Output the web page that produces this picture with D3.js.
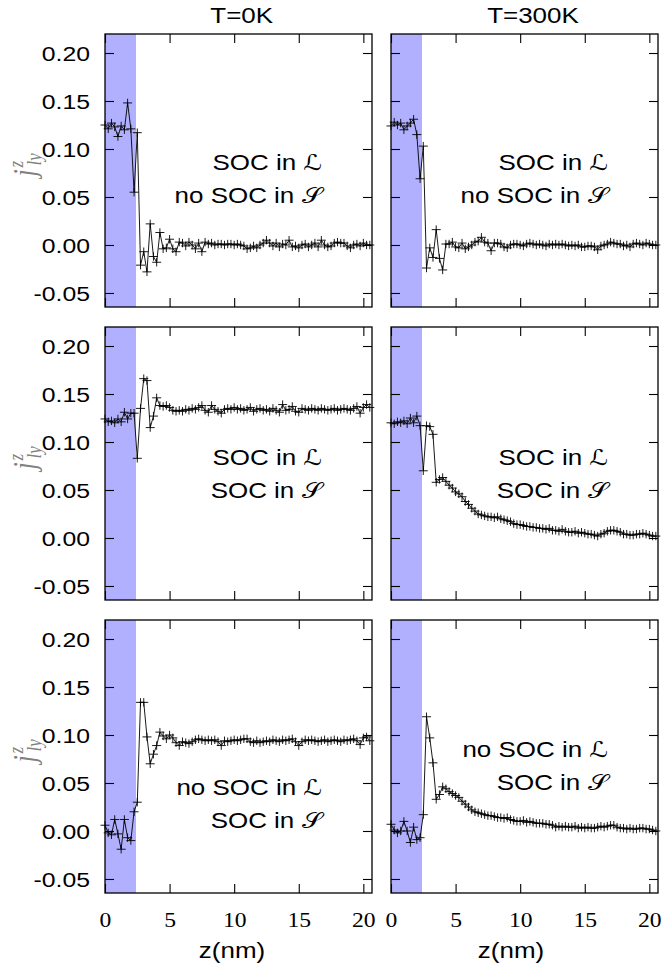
<!DOCTYPE html>
<html><head><meta charset="utf-8">
<script src="https://cdn.jsdelivr.net/npm/d3@7/dist/d3.min.js"></script>
<style>body{margin:0;background:#fff}</style>
</head><body><svg id="c" width="661" height="973"></svg>
<script>
// ---------- data ----------
const zNm = [0,0.25,0.5,0.75,1,1.25,1.5,1.75,2,2.25,2.5,2.75,3,3.25,3.5,3.75,4,4.25,4.5,4.75,5,5.25,5.5,5.75,6,6.25,6.5,6.75,7,7.25,7.5,7.75,8,8.25,8.5,8.75,9,9.25,9.5,9.75,10,10.25,10.5,10.75,11,11.25,11.5,11.75,12,12.25,12.5,12.75,13,13.25,13.5,13.75,14,14.25,14.5,14.75,15,15.25,15.5,15.75,16,16.25,16.5,16.75,17,17.25,17.5,17.75,18,18.25,18.5,18.75,19,19.25,19.5,19.75,20,20.25,20.5];

const socL_noS_0K = [0.125,0.121,0.127,0.123,0.113,0.124,0.120,0.148,0.121,0.055,
0.117,-0.021,-0.007,-0.028,0.022,-0.012,-0.018,0.013,-0.004,-0.003,
0.006,-0.004,-0.007,0.003,0.002,-0.001,0.003,0.000,-0.004,0.002,
-0.007,0.003,0.001,0.002,0.000,0.001,0.001,0.000,0.001,0.001,
0.000,0.001,0.000,-0.001,-0.004,-0.003,-0.001,-0.003,0.000,0.002,
0.005,0.002,-0.001,0.002,-0.002,0.001,0.000,0.005,-0.002,-0.001,
-0.003,0.000,0.001,-0.002,0.000,0.002,-0.002,0.005,0.000,-0.002,
-0.001,0.002,0.003,0.002,0.002,-0.001,-0.003,0.000,0.001,-0.001,
0.002,0.000,0.000];

const socL_noS_300K = [0.124,0.128,0.125,0.127,0.120,0.124,0.127,0.131,0.115,0.069,
0.103,-0.024,-0.003,-0.013,0.016,-0.014,-0.026,0.001,0.001,0.003,
-0.002,-0.003,0.002,-0.004,-0.002,0.000,0.003,0.004,0.008,0.003,
0.002,-0.006,0.002,0.002,0.001,-0.002,-0.003,0.000,0.001,0.001,
0.000,-0.001,0.001,0.002,0.001,0.000,0.001,0.000,-0.001,0.001,
0.000,0.001,0.000,0.001,0.000,-0.001,0.000,-0.001,0.000,-0.002,
-0.002,-0.001,-0.001,-0.002,-0.005,-0.001,0.000,0.001,0.003,0.002,
0.001,0.001,-0.001,0.000,-0.002,0.001,0.002,0.001,0.000,0.002,
0.001,0.000,0.000];

const socL_socS_0K = [0.124,0.121,0.122,0.120,0.124,0.121,0.131,0.124,0.130,0.130,
0.083,0.135,0.166,0.164,0.115,0.127,0.146,0.138,0.137,0.138,
0.136,0.133,0.132,0.133,0.132,0.134,0.133,0.135,0.134,0.136,
0.138,0.133,0.131,0.138,0.134,0.132,0.130,0.134,0.135,0.134,
0.136,0.134,0.135,0.133,0.134,0.136,0.132,0.134,0.135,0.133,
0.134,0.132,0.135,0.133,0.131,0.139,0.133,0.134,0.137,0.132,
0.131,0.135,0.134,0.133,0.135,0.134,0.133,0.135,0.134,0.133,
0.134,0.135,0.133,0.134,0.135,0.134,0.133,0.135,0.137,0.130,
0.136,0.139,0.136];

const socL_socS_300K = [0.120,0.119,0.121,0.120,0.122,0.119,0.125,0.120,0.127,0.117,
0.070,0.117,0.116,0.108,0.058,0.061,0.063,0.059,0.055,0.052,
0.048,0.046,0.043,0.038,0.035,0.031,0.028,0.025,0.024,0.023,
0.022,0.022,0.021,0.022,0.020,0.019,0.018,0.017,0.015,0.014,
0.014,0.013,0.012,0.012,0.011,0.011,0.010,0.010,0.009,0.010,
0.008,0.008,0.007,0.009,0.007,0.006,0.006,0.007,0.005,0.006,
0.005,0.004,0.004,0.003,0.002,0.004,0.005,0.007,0.008,0.008,
0.007,0.006,0.004,0.004,0.003,0.003,0.004,0.004,0.005,0.004,
0.003,0.002,0.002];

const noL_socS_0K = [0.006,-0.002,-0.004,0.012,-0.003,-0.019,0.012,-0.007,-0.010,0.020,
0.030,0.134,0.134,0.098,0.070,0.080,0.089,0.103,0.099,0.096,
0.100,0.097,0.092,0.089,0.093,0.092,0.091,0.093,0.095,0.096,
0.095,0.094,0.095,0.094,0.095,0.093,0.089,0.094,0.093,0.094,
0.095,0.094,0.095,0.096,0.096,0.093,0.092,0.094,0.092,0.093,
0.094,0.093,0.095,0.094,0.093,0.095,0.094,0.095,0.096,0.093,
0.089,0.093,0.095,0.094,0.095,0.094,0.093,0.094,0.095,0.093,
0.094,0.095,0.094,0.093,0.095,0.094,0.095,0.096,0.094,0.090,
0.097,0.098,0.094];

const noL_socS_300K = [0.007,0.001,-0.002,0.000,0.010,0.000,-0.012,0.004,-0.009,-0.007,
0.017,0.119,0.097,0.071,0.033,0.038,0.046,0.044,0.041,0.039,
0.037,0.035,0.031,0.028,0.025,0.022,0.020,0.019,0.018,0.017,
0.016,0.016,0.015,0.014,0.014,0.013,0.014,0.012,0.011,0.010,
0.010,0.011,0.009,0.010,0.009,0.008,0.008,0.008,0.007,0.007,
0.006,0.004,0.005,0.004,0.005,0.004,0.004,0.005,0.003,0.004,
0.003,0.004,0.003,0.003,0.004,0.005,0.004,0.005,0.006,0.006,
0.004,0.003,0.003,0.002,0.003,0.002,0.002,0.003,0.003,0.002,
0.002,0.001,0.000];

const lRegionEnd = 2.4;               // shaded layer L (nm)
const yTicks = [-0.05,0,0.05,0.10,0.15,0.20];
const yTickLabels = ["-0.05","0.00","0.05","0.10","0.15","0.20"];
const xTicks = [0,5,10,15,20];
const xTickLabels = ["0","5","10","15","20"];
const columnTitles = ["T=0K","T=300K"];
const xAxisTitle = "z(nm)";
const panelSeries = [[socL_noS_0K, socL_noS_300K],[socL_socS_0K, socL_socS_300K],[noL_socS_0K, noL_socS_300K]];
const rowNotes = [
  [["SOC in ","\u2112"],["no SOC in ","\u{1D4AE}"]],
  [["SOC in ","\u2112"],["SOC in ","\u{1D4AE}"]],
  [["no SOC in ","\u2112"],["SOC in ","\u{1D4AE}"]]
];

// ---------- layout ----------
const colX = [105, 391], panelW = 267;
const rowY = [34, 327, 620], panelH = 273;
const XS = 1.18;  // horizontal stretch of the original figure's text
const noteY = [[[136,169.3],[136,169.3]],[[138,171.3],[138,171.3]],[[175,208.3],[136.7,170]]];
const sans = "'Liberation Sans', Arial, Helvetica, sans-serif";
const serif = "'Liberation Serif', 'Times New Roman', serif";

const svg = d3.select("#c");
const x = d3.scaleLinear().domain([0, 20.67]).range([0, panelW]);
const y = d3.scaleLinear().domain([-0.0646, 0.2198]).range([panelH, 0]);

function stretchText(sel){
  sel.attr("transform", "scale(" + XS + ",1)");
}

panelSeries.forEach((row, r) => {
  row.forEach((vals, c) => {
    const g = svg.append("g").attr("transform", `translate(${colX[c]},${rowY[r]})`);
    g.append("rect").attr("x", x(0)).attr("y", 0)
      .attr("width", x(lRegionEnd) - x(0)).attr("height", panelH)
      .attr("fill", "#b0b0ff");

    const pts = zNm.map((z, i) => [z, vals[i]]);
    g.append("path").datum(pts)
      .attr("d", d3.line().x(d => x(d[0])).y(d => y(d[1])))
      .attr("fill", "none").attr("stroke", "#000").attr("stroke-width", 0.9);
    g.append("g").selectAll("path").data(pts).join("path")
      .attr("transform", d => `translate(${x(d[0])},${y(d[1])})`)
      .attr("d", "M-4.5,0H4.5M0,-4.2V4.2")
      .attr("stroke", "#000").attr("stroke-width", 0.9).attr("fill", "none");

    // axes (inward ticks on all four sides)
    const left = g.append("g").call(d3.axisLeft(y).tickValues(yTicks)
      .tickSizeInner(-9).tickSizeOuter(0).tickPadding(12.7)
      .tickFormat((d, i) => c === 0 ? yTickLabels[i] : ""));
    const right = g.append("g").attr("transform", `translate(${panelW},0)`)
      .call(d3.axisRight(y).tickValues(yTicks).tickSizeInner(-9).tickSizeOuter(0).tickFormat(""));
    const top = g.append("g").call(d3.axisTop(x).tickValues(xTicks).tickSizeInner(-9).tickSizeOuter(0).tickFormat(""));
    const bottom = g.append("g").attr("transform", `translate(0,${panelH})`)
      .call(d3.axisBottom(x).tickValues(xTicks).tickSizeInner(-9).tickSizeOuter(0)
        .tickFormat((d, i) => r === 2 ? xTickLabels[i] : ""));
    [left, right, top, bottom].forEach(a => {
      a.select(".domain").remove();
      a.selectAll(".tick line").attr("stroke", "#000").attr("stroke-width", 1.1);
    });
    left.selectAll(".tick text").attr("font-family", sans).attr("font-size", 21)
      .attr("fill", "#000").attr("dy", "0.36em").call(stretchText);
    bottom.selectAll(".tick text").attr("font-family", serif).attr("font-size", 20)
      .attr("fill", "#000").attr("y", 33.7).attr("dy", 0).call(stretchText);

    g.append("rect").attr("width", panelW).attr("height", panelH)
      .attr("fill", "none").attr("stroke", "#000").attr("stroke-width", 1.3);

    // annotation (two lines, right aligned)
    rowNotes[r].forEach((ln, k) => {
      const t = g.append("text")
        .attr("transform", `translate(${panelW - 50},${noteY[r][c][k]}) scale(${XS},1)`)
        .attr("text-anchor", "end").attr("font-family", sans).attr("font-size", 22).attr("fill", "#000");
      t.append("tspan").text(ln[0]);
      t.append("tspan").attr("font-family", "'DejaVu Sans', 'DejaVu Serif', 'Noto Sans', serif").text(ln[1]);
    });
  });

  // y axis title  j^z_{ly}
  const cy = rowY[r] + panelH / 2 - 8;
  const yl = svg.append("g").attr("transform", `translate(35,${cy}) rotate(-90) scale(1,${XS})`)
    .attr("fill", "#808080").attr("font-family", serif).attr("font-style", "italic");
  yl.append("text").attr("x", -14).attr("y", 0).attr("font-size", 26).text("j");
  yl.append("text").attr("x", -5).attr("y", -10).attr("font-size", 17).text("z");
  yl.append("text").attr("x", -3).attr("y", 5).attr("font-size", 17).text("ly");
});

// column titles
const titleX = [241.7, 533];
columnTitles.forEach((t, c) => {
  svg.append("text").attr("transform", `translate(${titleX[c]},22.7) scale(${XS},1)`)
    .attr("text-anchor", "middle").attr("font-family", sans).attr("font-size", 22).text(t);
});
// x axis titles
const xtX = [232, 511];
xtX.forEach(px => {
  svg.append("text").attr("transform", `translate(${px},958) scale(${XS},1)`)
    .attr("text-anchor", "middle").attr("font-family", sans).attr("font-size", 22).text(xAxisTitle);
});
</script>
</body></html>
